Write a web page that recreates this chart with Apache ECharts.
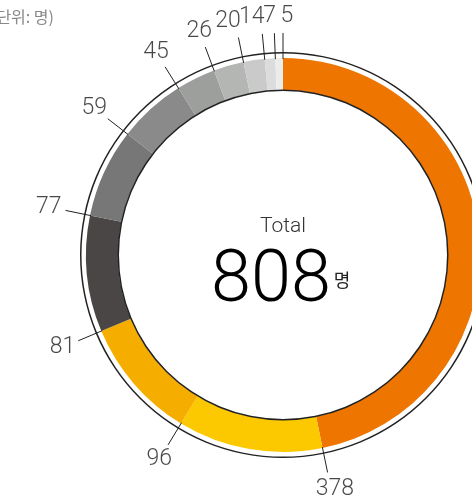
<!DOCTYPE html>
<html>
<head>
<meta charset="utf-8">
<script src="https://cdn.jsdelivr.net/npm/echarts@6/dist/echarts.min.js"></script>
<style>
html,body{margin:0;padding:0;background:#fff;}
#chart{width:472px;height:502px;}
</style>
</head>
<body>
<div id="chart"></div>
<script>
// ---- data ----
const values = [378, 96, 81, 77, 59, 45, 26, 20, 14, 7, 5];
const colors = ['#EE7500', '#FCC800', '#F5AE00', '#4A4645', '#777777', '#8A8A8A', '#9D9F9D', '#B4B6B4', '#C9CAC9', '#DCDCDC', '#ECECEC'];
const totalText = 'Total';
const unitText = '명';
const unitNote = '(단위: 명)';

const total = values.reduce((a, b) => a + b, 0);
const cum = [];
values.reduce((acc, v) => { acc += v; cum.push(acc); return acc; }, 0);

const CX = 283, CY = 255;
const labelOffsets = [[4, 0], [0, 0], [0, 0], [0, 0], [0, 0], [0, 0], [0, 0], [-7, 0], [-9, 0], [-4, 0], [4, 0]];

const chart = echarts.init(document.getElementById('chart'), null, {renderer: 'canvas'});

const leaderSeries = cum.map(c => ({
  type: 'line',
  coordinateSystem: 'polar',
  data: [[196, c], [222, c]],
  symbol: 'none',
  silent: true,
  animation: false,
  lineStyle: {color: '#222', width: 1}
}));

const option = {
  animation: false,
  polar: {center: [CX, CY], radius: 240},
  radiusAxis: {type: 'value', min: 0, max: 240, show: false},
  angleAxis: {type: 'value', min: 0, max: total, startAngle: 90, clockwise: true, show: false},
  series: [
    {
      type: 'pie',
      center: [CX, CY],
      radius: [165, 197],
      startAngle: 90,
      clockwise: true,
      silent: true,
      label: {show: false},
      labelLine: {show: false},
      data: values.map((v, i) => ({value: v, itemStyle: {color: colors[i]}}))
    },
    {
      type: 'pie', center: [CX, CY], radius: [201.5, 203], silent: true,
      label: {show: false}, data: [{value: 1, itemStyle: {color: '#222'}}]
    },
    {
      type: 'pie', center: [CX, CY], radius: [164, 165.5], silent: true,
      label: {show: false}, data: [{value: 1, itemStyle: {color: '#222'}}]
    },
    ...leaderSeries,
    {
      type: 'scatter',
      coordinateSystem: 'polar',
      symbolSize: 0,
      silent: true,
      data: cum.map((c, i) => ({
        value: [239, c],
        label: {offset: labelOffsets[i]}
      })),
      label: {
        show: true,
        position: 'inside',
        formatter: p => String(values[p.dataIndex]),
        fontFamily: 'Roboto',
        fontWeight: 300,
        fontSize: 23,
        color: '#1a1a1a'
      }
    }
  ],
  graphic: [
    {type: 'text', x: CX, y: 227, style: {text: totalText, font: '300 21px Roboto', fill: '#333', textAlign: 'center', textVerticalAlign: 'middle'}},
    {type: 'text', x: 271, y: 283, style: {text: String(total), font: '300 72px Roboto', fill: '#000', textAlign: 'center', textVerticalAlign: 'middle'}},
    {type: 'text', x: 342, y: 280, style: {text: unitText, font: '18px "Noto Sans CJK KR"', fill: '#222', textAlign: 'center', textVerticalAlign: 'middle'}},
    {type: 'text', x: 54, y: 17, style: {text: unitNote, font: '16px "Noto Sans CJK KR"', fill: '#888', textAlign: 'right', textVerticalAlign: 'middle'}}
  ]
};
chart.setOption(option);
</script>
</body>
</html>
